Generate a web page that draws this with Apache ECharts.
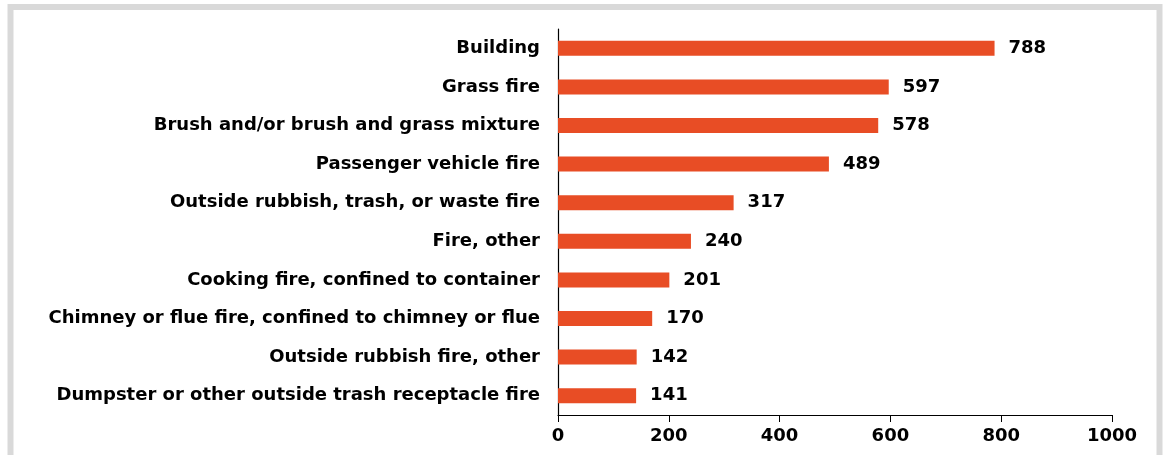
<!DOCTYPE html>
<html>
<head>
<meta charset="utf-8">
<script src="https://cdn.jsdelivr.net/npm/echarts@6/dist/echarts.min.js"></script>
<style>
  html, body { margin: 0; padding: 0; background: #fff; }
  #chart { width: 1164px; height: 455px; }
</style>
</head>
<body>
<div id="chart"></div>
<script>
// incident types, top to bottom
var categories = [
  'Building',
  'Grass fire',
  'Brush and/or brush and grass mixture',
  'Passenger vehicle fire',
  'Outside rubbish, trash, or waste fire',
  'Fire, other',
  'Cooking fire, confined to container',
  'Chimney or flue fire, confined to chimney or flue',
  'Outside rubbish fire, other',
  'Dumpster or other outside trash receptacle fire'
];
var counts = [788, 597, 578, 489, 317, 240, 201, 170, 142, 141];
var axisMin = 0;
var axisMax = 1000;
var axisStep = 200;

var font = 'DejaVu Sans';
var myChart = echarts.init(document.getElementById('chart'));
myChart.setOption({
  animation: false,
  backgroundColor: '#fff',
  // grey frame round the chart area
  graphic: [{
    type: 'rect',
    shape: { x: 10.5, y: 7, width: 1149, height: 470 },
    style: { fill: 'none', stroke: '#d9d9d9', lineWidth: 6 },
    silent: true
  }],
  grid: { left: 558, right: 52, top: 29, bottom: 40 },
  xAxis: {
    type: 'value',
    min: axisMin,
    max: axisMax,
    interval: axisStep,
    axisLine: { show: true, lineStyle: { color: '#000', width: 1.2 } },
    axisTick: { show: true, length: 7, lineStyle: { color: '#000' } },
    splitLine: { show: false },
    axisLabel: {
      color: '#000', fontFamily: font, fontWeight: 'bold', fontSize: 18, margin: 12,
      formatter: function (v) { return String(v); }
    }
  },
  yAxis: {
    type: 'category',
    inverse: true,
    data: categories,
    axisLine: { show: true, lineStyle: { color: '#000', width: 1.2 } },
    axisTick: { show: false },
    axisLabel: { color: '#000', fontFamily: font, fontWeight: 'bold', fontSize: 18, margin: 18 }
  },
  series: [{
    type: 'bar',
    data: counts,
    barWidth: 15,
    itemStyle: { color: '#e84d25' },
    label: {
      show: true,
      position: 'right',
      distance: 14,
      color: '#000',
      fontFamily: font,
      fontWeight: 'bold',
      fontSize: 18
    }
  }]
});
</script>
</body>
</html>
